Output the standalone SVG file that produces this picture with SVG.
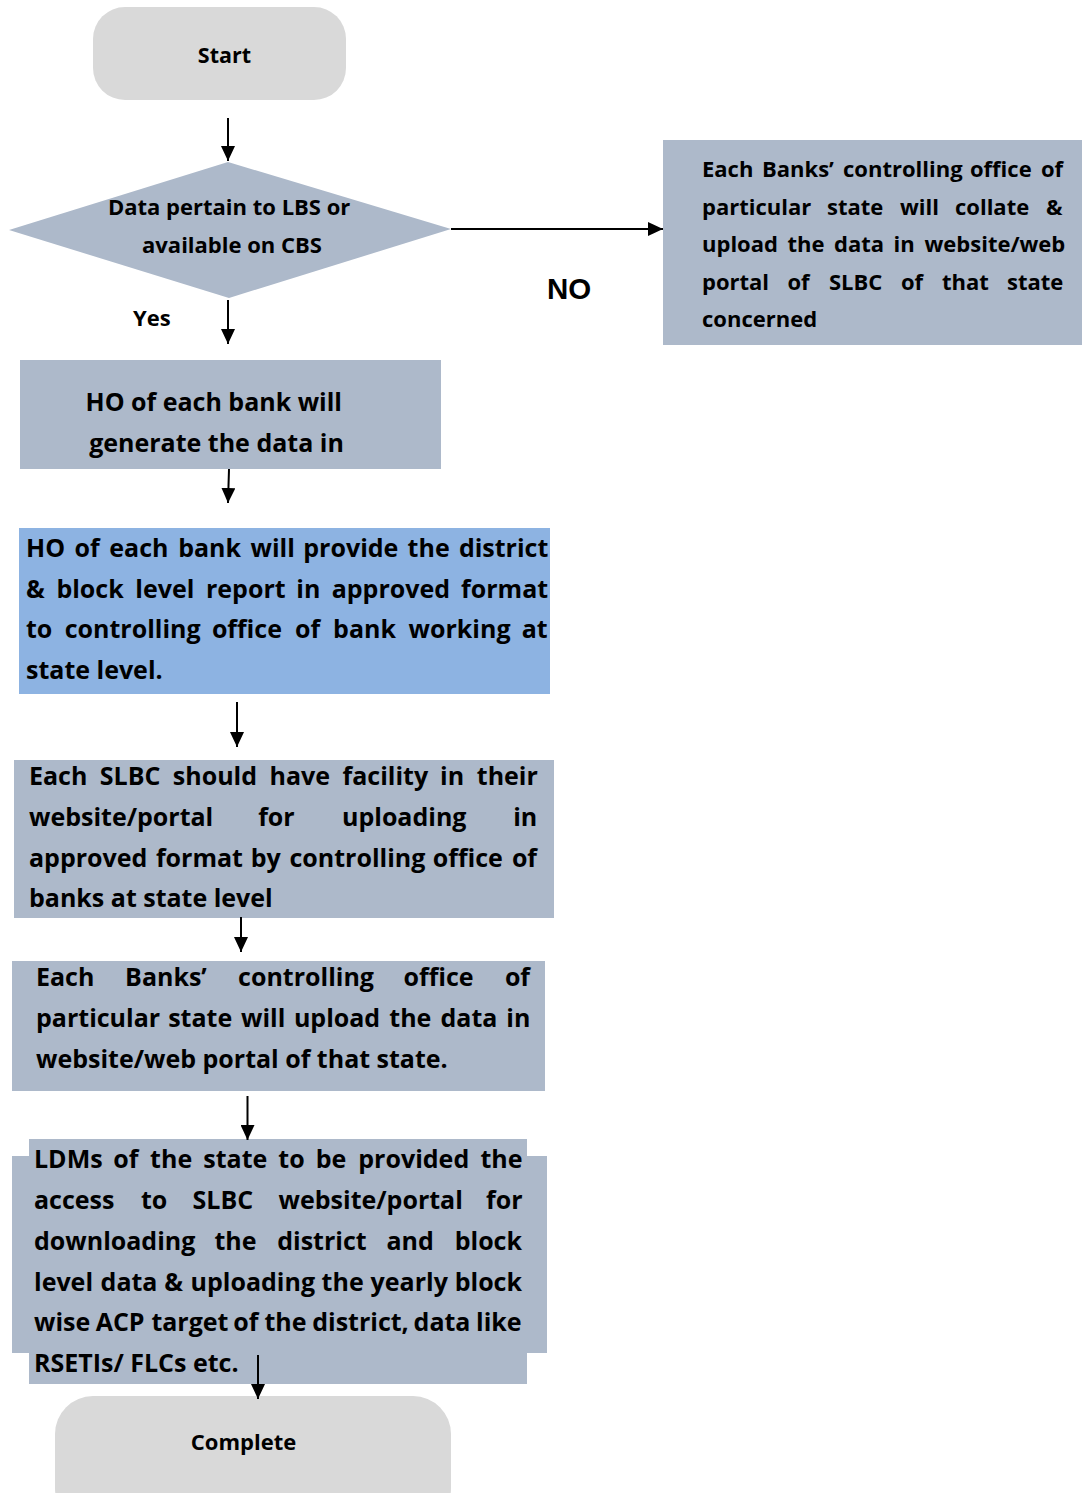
<svg xmlns="http://www.w3.org/2000/svg" width="1082" height="1493" viewBox="0 0 1082 1493">
<style>
.t{font-family:"Open Sans","Noto Sans","DejaVu Sans",sans-serif;font-weight:700;fill:#000}
.g{fill:#d9d9d9}
.s{fill:#adb9ca}
.b{fill:#8db3e2}
.c{stroke:#000;stroke-width:2;fill:none}
.f22{font-size:22px}
.f25{font-size:25px}
</style>
<defs>
<marker id="ah" markerUnits="userSpaceOnUse" markerWidth="15" markerHeight="14" refX="15" refY="7" orient="auto">
<path d="M0,0 L15,7 L0,14 z" fill="#000"/>
</marker>
</defs>
<rect width="1082" height="1493" fill="#fff"/>

<g id="start">
<rect class="g" x="93" y="7" width="253" height="93" rx="32"/>
<text class="t" x="224.5" y="63" font-size="21.5" text-anchor="middle">Start</text>
</g>

<g id="decision">
<polygon class="s" points="9,230 228,162 451,229 229,298"/>
<text class="t f22" text-anchor="middle"><tspan x="232" y="215">Data pertain to LBS or </tspan><tspan x="232" y="253">available on CBS</tspan></text>
</g>

<g id="collate">
<rect class="s" x="663" y="140" width="419" height="205"/>
<text class="t f22">
<tspan x="702" y="177">Each </tspan><tspan x="762" y="177">Banks’ </tspan><tspan x="843" y="177">controlling </tspan><tspan x="970" y="177">office </tspan><tspan x="1041" y="177">of </tspan>
<tspan x="702" y="214.5">particular </tspan><tspan x="827" y="214.5">state </tspan><tspan x="900" y="214.5">will </tspan><tspan x="955" y="214.5">collate </tspan><tspan x="1046" y="214.5">&amp; </tspan>
<tspan x="702" y="252">upload </tspan><tspan x="787.5" y="252">the </tspan><tspan x="834" y="252">data </tspan><tspan x="893.5" y="252">in </tspan><tspan x="924.5" y="252">website/web </tspan>
<tspan x="702" y="289.5">portal </tspan><tspan x="787.5" y="289.5">of </tspan><tspan x="829" y="289.5">SLBC </tspan><tspan x="901" y="289.5">of </tspan><tspan x="942" y="289.5">that </tspan><tspan x="1007" y="289.5">state </tspan>
<tspan x="702" y="327">concerned</tspan>
</text>
</g>

<g id="ho-generate">
<rect class="s" x="20" y="360" width="421" height="109"/>
<text class="t f25" text-anchor="middle"><tspan x="217" y="411">HO of each bank will </tspan><tspan x="216.5" y="452">generate the data in</tspan></text>
</g>

<g id="ho-provide">
<rect class="b" x="19" y="528" width="531" height="166"/>
<text class="t f25">
<tspan x="26" y="557">HO </tspan><tspan x="74.5" y="557">of </tspan><tspan x="109.3" y="557">each </tspan><tspan x="178.2" y="557">bank </tspan><tspan x="250.5" y="557">will </tspan><tspan x="303.3" y="557">provide </tspan><tspan x="407.6" y="557">the </tspan><tspan x="458.9" y="557">district </tspan>
<tspan x="26" y="597.5">&amp; </tspan><tspan x="56.4" y="597.5">block </tspan><tspan x="135.3" y="597.5">level </tspan><tspan x="206" y="597.5">report </tspan><tspan x="296.3" y="597.5">in </tspan><tspan x="331.7" y="597.5">approved </tspan><tspan x="461.1" y="597.5">format </tspan>
<tspan x="26" y="638">to </tspan><tspan x="64.7" y="638">controlling </tspan><tspan x="211.9" y="638">office </tspan><tspan x="295.1" y="638">of </tspan><tspan x="333.1" y="638">bank </tspan><tspan x="408.6" y="638">working </tspan><tspan x="521.7" y="638">at </tspan>
<tspan x="26" y="678.5">state level.</tspan>
</text>
</g>

<g id="slbc-facility">
<rect class="s" x="14" y="760" width="540" height="158"/>
<text class="t f25">
<tspan x="29" y="785">Each </tspan><tspan x="99.8" y="785">SLBC </tspan><tspan x="172.8" y="785">should </tspan><tspan x="269.5" y="785">have </tspan><tspan x="342.6" y="785">facility </tspan><tspan x="440.1" y="785">in </tspan><tspan x="476.8" y="785">their </tspan>
<tspan x="29" y="826">website/portal </tspan><tspan x="258.2" y="826">for </tspan><tspan x="342" y="826">uploading </tspan><tspan x="513.2" y="826">in </tspan>
<tspan x="29" y="866.5">approved </tspan><tspan x="155.9" y="866.5">format </tspan><tspan x="250.8" y="866.5">by </tspan><tspan x="289.5" y="866.5">controlling </tspan><tspan x="432.7" y="866.5">office </tspan><tspan x="511.9" y="866.5">of </tspan>
<tspan x="29" y="907">banks at state level</tspan>
</text>
</g>

<g id="upload">
<rect class="s" x="12" y="961" width="533" height="130"/>
<text class="t f25">
<tspan x="36" y="986">Each </tspan><tspan x="125.1" y="986">Banks’ </tspan><tspan x="238.1" y="986">controlling </tspan><tspan x="403.5" y="986">office </tspan><tspan x="504.9" y="986">of </tspan>
<tspan x="36" y="1027">particular </tspan><tspan x="168.2" y="1027">state </tspan><tspan x="241.1" y="1027">will </tspan><tspan x="293.9" y="1027">upload </tspan><tspan x="389.3" y="1027">the </tspan><tspan x="440.5" y="1027">data </tspan><tspan x="506.3" y="1027">in </tspan>
<tspan x="36" y="1068">website/web portal of that state.</tspan>
</text>
</g>

<g id="ldm">
<rect class="s" x="12" y="1156" width="535" height="197"/>
<rect class="s" x="29" y="1139" width="498" height="245"/>
<text class="t f25">
<tspan x="34" y="1168">LDMs </tspan><tspan x="113.3" y="1168">of </tspan><tspan x="150.1" y="1168">the </tspan><tspan x="203.3" y="1168">state </tspan><tspan x="278.3" y="1168">to </tspan><tspan x="315.8" y="1168">be </tspan><tspan x="358.3" y="1168">provided </tspan><tspan x="480.4" y="1168">the </tspan>
<tspan x="34" y="1209">access </tspan><tspan x="141" y="1209">to </tspan><tspan x="192.6" y="1209">SLBC </tspan><tspan x="278.6" y="1209">website/portal </tspan><tspan x="486" y="1209">for </tspan>
<tspan x="34" y="1250">downloading </tspan><tspan x="214.5" y="1250">the </tspan><tspan x="277.2" y="1250">district </tspan><tspan x="386.5" y="1250">and </tspan><tspan x="454.7" y="1250">block </tspan>
<tspan x="34" y="1290.5">level </tspan><tspan x="100.6" y="1290.5">data </tspan><tspan x="164.3" y="1290.5">&amp; </tspan><tspan x="190.6" y="1290.5">uploading </tspan><tspan x="321.6" y="1290.5">the </tspan><tspan x="370.6" y="1290.5">yearly </tspan><tspan x="454.7" y="1290.5">block </tspan>
<tspan x="34" y="1331">wise </tspan><tspan x="95.7" y="1331">ACP </tspan><tspan x="151.4" y="1331">target </tspan><tspan x="233.3" y="1331">of </tspan><tspan x="264.5" y="1331">the </tspan><tspan x="312.2" y="1331">district, </tspan><tspan x="413.6" y="1331">data </tspan><tspan x="476" y="1331">like </tspan>
<tspan x="34" y="1372">RSETIs/ FLCs etc.</tspan>
</text>
</g>

<g id="complete">
<rect class="g" x="55" y="1396" width="396" height="130" rx="38"/>
<text class="t" x="243.5" y="1450" font-size="22" text-anchor="middle">Complete</text>
</g>

<g id="labels">
<text class="t f22" x="133" y="326">Yes</text>
<text x="547" y="299" font-family="'Liberation Sans',Arial,sans-serif" font-weight="700" font-size="29.5">NO</text>
</g>

<g id="connectors">
<line class="c" x1="228" y1="118" x2="228" y2="161" marker-end="url(#ah)"/>
<line class="c" x1="451" y1="229" x2="663" y2="229" marker-end="url(#ah)"/>
<line class="c" x1="228" y1="300" x2="228" y2="344" marker-end="url(#ah)"/>
<line class="c" x1="229" y1="469" x2="228" y2="503" marker-end="url(#ah)"/>
<line class="c" x1="237" y1="702" x2="237" y2="747" marker-end="url(#ah)"/>
<line class="c" x1="241" y1="917" x2="241" y2="952" marker-end="url(#ah)"/>
<line class="c" x1="247.5" y1="1096" x2="247.5" y2="1140" marker-end="url(#ah)"/>
<line class="c" x1="258" y1="1355" x2="258" y2="1399" marker-end="url(#ah)"/>
</g>
</svg>
